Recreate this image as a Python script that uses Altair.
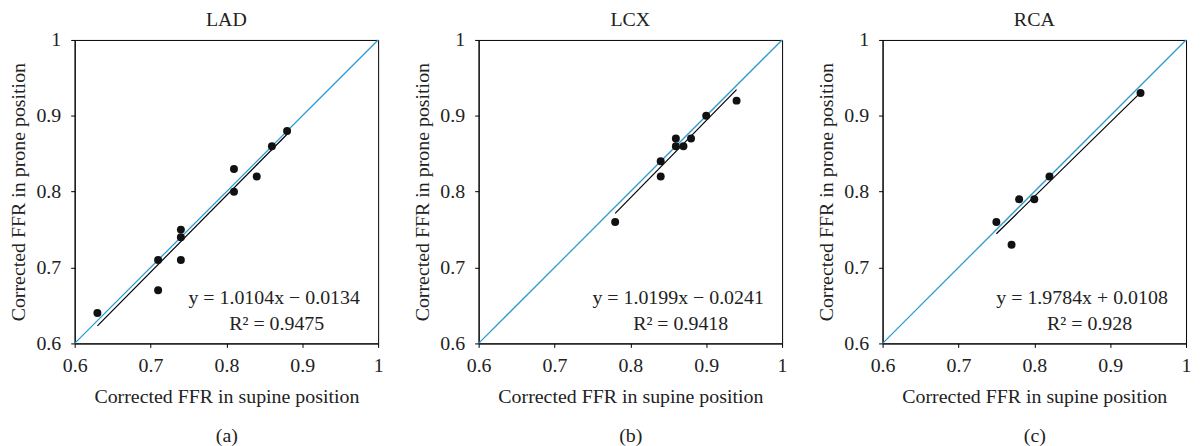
import altair as alt
import pandas as pd

names = ["LAD", "LCX", "RCA"]
captions = ["(a)", "(b)", "(c)"]
lad_x = [0.63, 0.71, 0.71, 0.74, 0.74, 0.74, 0.81, 0.81, 0.84, 0.86, 0.88]
lad_y = [0.64, 0.71, 0.67, 0.75, 0.74, 0.71, 0.83, 0.80, 0.82, 0.86, 0.88]
lcx_x = [0.78, 0.84, 0.84, 0.86, 0.86, 0.87, 0.88, 0.90, 0.94]
lcx_y = [0.76, 0.84, 0.82, 0.87, 0.86, 0.86, 0.87, 0.90, 0.92]
rca_x = [0.75, 0.77, 0.78, 0.80, 0.82, 0.94]
rca_y = [0.76, 0.73, 0.79, 0.79, 0.82, 0.93]
slopes = [1.0104, 1.0199, 0.9784]
intercepts = [-0.0134, -0.0241, 0.0108]
eq_texts = ["y = 1.0104x − 0.0134", "y = 1.0199x − 0.0241", "y = 1.9784x + 0.0108"]
r2_texts = ["R² = 0.9475", "R² = 0.9418", "R² = 0.928"]
ticks = [0.6, 0.7, 0.8, 0.9, 1.0]

FONT = "Liberation Serif"
W, H = 305, 305
FS = 20

xs_all = [lad_x, lcx_x, rca_x]
ys_all = [lad_y, lcx_y, rca_y]


def panel(i):
    xs, ys = xs_all[i], ys_all[i]
    pts = pd.DataFrame({"x": xs, "y": ys})
    xsc = alt.Scale(domain=[0.6, 1.0], nice=False, zero=False)
    ysc = alt.Scale(domain=[0.6, 1.0], nice=False, zero=False)
    common = dict(values=ticks, format="~g", grid=False, tickSize=4,
                  labelFontSize=FS, titleFontSize=FS, titleFontWeight="normal",
                  labelFont=FONT, titleFont=FONT, domainColor="black", tickColor="black",
                  labelColor="#222", titleColor="#222", labelFlush=False)
    xax = alt.Axis(title=["Corrected FFR in supine position", captions[i]],
                   titleLineHeight=40, titlePadding=11, labelPadding=8, **common)
    yax = alt.Axis(title="Corrected FFR in prone position", titlePadding=7,
                   labelPadding=10, **common)

    diag = pd.DataFrame({"x": [0.6, 1.0], "y": [0.6, 1.0]})
    x0, x1 = min(xs), max(xs)
    fit = pd.DataFrame({"x": [x0, x1],
                        "y": [slopes[i] * x0 + intercepts[i], slopes[i] * x1 + intercepts[i]]})

    l_diag = alt.Chart(diag).mark_line(color="#2a9ad6", strokeWidth=1.3).encode(
        x=alt.X("x:Q", scale=xsc, axis=xax), y=alt.Y("y:Q", scale=ysc, axis=yax))
    l_fit = alt.Chart(fit).mark_line(color="black", strokeWidth=1.2).encode(
        x=alt.X("x:Q", scale=xsc), y=alt.Y("y:Q", scale=ysc))
    l_pts = alt.Chart(pts).mark_circle(color="#111", opacity=1, size=64).encode(
        x=alt.X("x:Q", scale=xsc), y=alt.Y("y:Q", scale=ysc))
    ann = pd.DataFrame({"x": [0.976, 0.929], "y": [0.66, 0.626], "t": [eq_texts[i], r2_texts[i]]})
    l_txt = alt.Chart(ann).mark_text(align="right", baseline="middle", fontSize=FS,
                                     font=FONT, color="#222").encode(
        x=alt.X("x:Q", scale=xsc), y=alt.Y("y:Q", scale=ysc), text="t:N")
    return alt.layer(l_diag, l_fit, l_pts, l_txt).properties(
        width=W, height=H,
        title=alt.TitleParams(names[i], fontSize=FS, fontWeight="normal", font=FONT,
                              color="#222", offset=0))


chart = alt.hconcat(panel(0), panel(1), panel(2), spacing=28).configure(
    font=FONT
).configure_view(stroke="black", strokeWidth=1).properties(
    padding={"left": 0, "top": 0, "right": 2, "bottom": 0})

chart.save("out.html", embed_options={"renderer": "svg", "actions": False})
